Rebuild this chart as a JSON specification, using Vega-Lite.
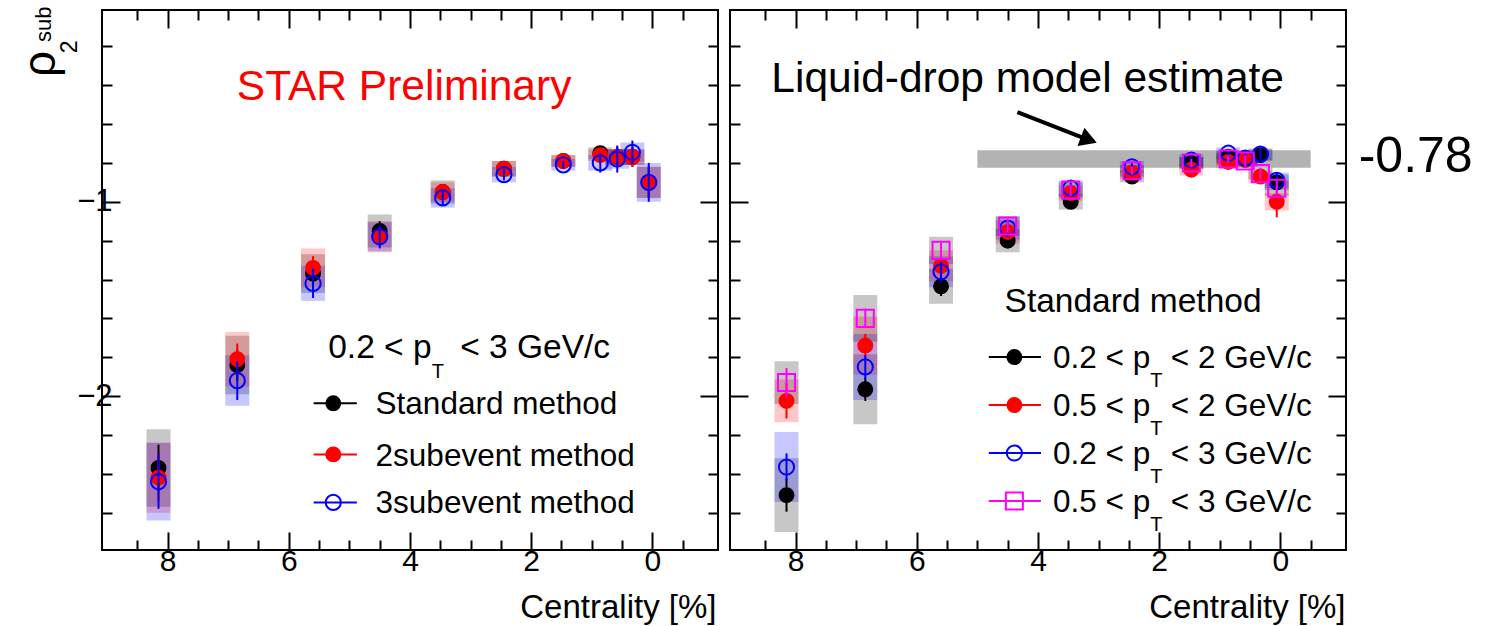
{
  "$schema": "https://vega.github.io/schema/vega-lite/v6.json",
  "padding": {"left": 16, "top": 5, "right": 5, "bottom": 0},
  "background": "white",
  "spacing": 8,
  "config": {
    "font": "Liberation Sans",
    "view": {"stroke": "black", "strokeWidth": 2},
    "axis": {"tickColor": "black", "tickWidth": 2, "labelColor": "black", "titleColor": "black", "domain": false, "grid": false, "labelFont": "Liberation Sans", "titleFont": "Liberation Sans", "titleFontWeight": "normal", "minExtent": 0, "labelFlush": false, "labelOverlap": false}
  },
  "datasets": {
    "L": [
      {"s":"std","c":8.15,"v":-2.37,"elo":-2.49,"ehi":-2.25,"slo":-2.57,"shi":-2.17},
      {"s":"std","c":6.85,"v":-1.84,"elo":-1.92,"ehi":-1.76,"slo":-1.99,"shi":-1.69},
      {"s":"std","c":5.6,"v":-1.37,"elo":-1.43,"ehi":-1.31,"slo":-1.47,"shi":-1.27},
      {"s":"std","c":4.5,"v":-1.15,"elo":-1.2,"ehi":-1.1,"slo":-1.235,"shi":-1.065},
      {"s":"std","c":3.46,"v":-0.95,"elo":-0.98,"ehi":-0.92,"slo":-1.01,"shi":-0.89},
      {"s":"std","c":2.45,"v":-0.83,"elo":-0.85,"ehi":-0.81,"slo":-0.87,"shi":-0.79},
      {"s":"std","c":1.47,"v":-0.79,"elo":-0.81,"ehi":-0.77,"slo":-0.82,"shi":-0.76},
      {"s":"std","c":0.86,"v":-0.75,"elo":-0.78,"ehi":-0.72,"slo":-0.78,"shi":-0.72},
      {"s":"std","c":0.58,"v":-0.77,"elo":-0.82,"ehi":-0.72,"slo":-0.81,"shi":-0.73},
      {"s":"std","c":0.33,"v":-0.77,"elo":-0.82,"ehi":-0.72,"slo":-0.81,"shi":-0.73},
      {"s":"std","c":0.06,"v":-0.9,"elo":-0.98,"ehi":-0.82,"slo":-0.98,"shi":-0.82},
      {"s":"sub2","c":8.15,"v":-2.42,"elo":-2.54,"ehi":-2.3,"slo":-2.6,"shi":-2.24},
      {"s":"sub2","c":6.85,"v":-1.81,"elo":-1.89,"ehi":-1.73,"slo":-1.95,"shi":-1.67},
      {"s":"sub2","c":5.6,"v":-1.34,"elo":-1.4,"ehi":-1.28,"slo":-1.44,"shi":-1.24},
      {"s":"sub2","c":4.5,"v":-1.18,"elo":-1.23,"ehi":-1.13,"slo":-1.26,"shi":-1.1},
      {"s":"sub2","c":3.46,"v":-0.95,"elo":-0.98,"ehi":-0.92,"slo":-1.0,"shi":-0.9},
      {"s":"sub2","c":2.45,"v":-0.83,"elo":-0.85,"ehi":-0.81,"slo":-0.87,"shi":-0.79},
      {"s":"sub2","c":1.47,"v":-0.79,"elo":-0.81,"ehi":-0.77,"slo":-0.82,"shi":-0.76},
      {"s":"sub2","c":0.86,"v":-0.76,"elo":-0.79,"ehi":-0.73,"slo":-0.79,"shi":-0.73},
      {"s":"sub2","c":0.58,"v":-0.77,"elo":-0.82,"ehi":-0.72,"slo":-0.81,"shi":-0.73},
      {"s":"sub2","c":0.33,"v":-0.77,"elo":-0.82,"ehi":-0.72,"slo":-0.81,"shi":-0.73},
      {"s":"sub2","c":0.06,"v":-0.9,"elo":-0.98,"ehi":-0.82,"slo":-0.98,"shi":-0.82},
      {"s":"sub3","c":8.15,"v":-2.44,"elo":-2.58,"ehi":-2.3,"slo":-2.64,"shi":-2.24},
      {"s":"sub3","c":6.85,"v":-1.92,"elo":-2.02,"ehi":-1.82,"slo":-2.05,"shi":-1.79},
      {"s":"sub3","c":5.6,"v":-1.42,"elo":-1.495,"ehi":-1.345,"slo":-1.51,"shi":-1.33},
      {"s":"sub3","c":4.5,"v":-1.18,"elo":-1.24,"ehi":-1.12,"slo":-1.255,"shi":-1.105},
      {"s":"sub3","c":3.46,"v":-0.98,"elo":-1.02,"ehi":-0.94,"slo":-1.03,"shi":-0.93},
      {"s":"sub3","c":2.45,"v":-0.86,"elo":-0.89,"ehi":-0.83,"slo":-0.9,"shi":-0.82},
      {"s":"sub3","c":1.47,"v":-0.81,"elo":-0.83,"ehi":-0.79,"slo":-0.84,"shi":-0.78},
      {"s":"sub3","c":0.86,"v":-0.8,"elo":-0.85,"ehi":-0.75,"slo":-0.84,"shi":-0.76},
      {"s":"sub3","c":0.58,"v":-0.78,"elo":-0.85,"ehi":-0.71,"slo":-0.83,"shi":-0.73},
      {"s":"sub3","c":0.33,"v":-0.745,"elo":-0.805,"ehi":-0.685,"slo":-0.795,"shi":-0.695},
      {"s":"sub3","c":0.06,"v":-0.9,"elo":-1.0,"ehi":-0.8,"slo":-1.0,"shi":-0.8}
    ],
    "R": [
      {"s":"a","c":8.15,"v":-2.51,"elo":-2.595,"ehi":-2.425,"slo":-2.7,"shi":-2.32},
      {"s":"a","c":6.85,"v":-1.965,"elo":-2.025,"ehi":-1.905,"slo":-2.145,"shi":-1.785},
      {"s":"a","c":5.6,"v":-1.435,"elo":-1.485,"ehi":-1.385,"slo":-1.525,"shi":-1.345},
      {"s":"a","c":4.5,"v":-1.2,"elo":-1.24,"ehi":-1.16,"slo":-1.26,"shi":-1.14},
      {"s":"a","c":3.46,"v":-1.0,"elo":-1.03,"ehi":-0.97,"slo":-1.04,"shi":-0.96},
      {"s":"a","c":2.45,"v":-0.87,"elo":-0.89,"ehi":-0.85,"slo":-0.9,"shi":-0.84},
      {"s":"a","c":1.47,"v":-0.8,"elo":-0.82,"ehi":-0.78,"slo":-0.83,"shi":-0.77},
      {"s":"a","c":0.86,"v":-0.77,"elo":-0.79,"ehi":-0.75,"slo":-0.8,"shi":-0.74},
      {"s":"a","c":0.58,"v":-0.78,"elo":-0.81,"ehi":-0.75,"slo":-0.81,"shi":-0.75},
      {"s":"a","c":0.33,"v":-0.76,"elo":-0.79,"ehi":-0.73,"slo":-0.79,"shi":-0.73},
      {"s":"a","c":0.06,"v":-0.9,"elo":-0.94,"ehi":-0.86,"slo":-0.94,"shi":-0.86},
      {"s":"b","c":8.15,"v":-2.025,"elo":-2.115,"ehi":-1.935,"slo":-2.135,"shi":-1.915},
      {"s":"b","c":6.85,"v":-1.74,"elo":-1.8,"ehi":-1.68,"slo":-1.89,"shi":-1.59},
      {"s":"b","c":5.6,"v":-1.33,"elo":-1.38,"ehi":-1.28,"slo":-1.41,"shi":-1.25},
      {"s":"b","c":4.5,"v":-1.155,"elo":-1.195,"ehi":-1.115,"slo":-1.215,"shi":-1.095},
      {"s":"b","c":3.46,"v":-0.955,"elo":-0.985,"ehi":-0.925,"slo":-0.995,"shi":-0.915},
      {"s":"b","c":2.45,"v":-0.85,"elo":-0.87,"ehi":-0.83,"slo":-0.88,"shi":-0.82},
      {"s":"b","c":1.47,"v":-0.835,"elo":-0.855,"ehi":-0.815,"slo":-0.865,"shi":-0.805},
      {"s":"b","c":0.86,"v":-0.795,"elo":-0.815,"ehi":-0.775,"slo":-0.825,"shi":-0.765},
      {"s":"b","c":0.58,"v":-0.785,"elo":-0.815,"ehi":-0.755,"slo":-0.815,"shi":-0.755},
      {"s":"b","c":0.33,"v":-0.87,"elo":-0.9,"ehi":-0.84,"slo":-0.9,"shi":-0.84},
      {"s":"b","c":0.06,"v":-1.0,"elo":-1.08,"ehi":-0.92,"slo":-1.045,"shi":-0.955},
      {"s":"c","c":8.15,"v":-2.365,"elo":-2.435,"ehi":-2.295,"slo":-2.545,"shi":-2.185},
      {"s":"c","c":6.85,"v":-1.85,"elo":-1.91,"ehi":-1.79,"slo":-2.02,"shi":-1.68},
      {"s":"c","c":5.6,"v":-1.36,"elo":-1.41,"ehi":-1.31,"slo":-1.44,"shi":-1.28},
      {"s":"c","c":4.5,"v":-1.135,"elo":-1.175,"ehi":-1.095,"slo":-1.195,"shi":-1.075},
      {"s":"c","c":3.46,"v":-0.93,"elo":-0.96,"ehi":-0.9,"slo":-0.97,"shi":-0.89},
      {"s":"c","c":2.45,"v":-0.82,"elo":-0.84,"ehi":-0.8,"slo":-0.85,"shi":-0.79},
      {"s":"c","c":1.47,"v":-0.785,"elo":-0.805,"ehi":-0.765,"slo":-0.815,"shi":-0.755},
      {"s":"c","c":0.86,"v":-0.75,"elo":-0.77,"ehi":-0.73,"slo":-0.78,"shi":-0.72},
      {"s":"c","c":0.58,"v":-0.775,"elo":-0.805,"ehi":-0.745,"slo":-0.805,"shi":-0.745},
      {"s":"c","c":0.33,"v":-0.755,"elo":-0.785,"ehi":-0.725,"slo":-0.785,"shi":-0.725},
      {"s":"c","c":0.06,"v":-0.89,"elo":-0.93,"ehi":-0.85,"slo":-0.93,"shi":-0.85},
      {"s":"d","c":8.15,"v":-1.93,"elo":-2.005,"ehi":-1.855,"slo":-2.04,"shi":-1.82},
      {"s":"d","c":6.85,"v":-1.6,"elo":-1.65,"ehi":-1.55,"slo":-1.72,"shi":-1.48},
      {"s":"d","c":5.6,"v":-1.25,"elo":-1.29,"ehi":-1.21,"slo":-1.32,"shi":-1.18},
      {"s":"d","c":4.5,"v":-1.125,"elo":-1.16,"ehi":-1.09,"slo":-1.175,"shi":-1.075},
      {"s":"d","c":3.46,"v":-0.94,"elo":-0.97,"ehi":-0.91,"slo":-0.98,"shi":-0.9},
      {"s":"d","c":2.45,"v":-0.84,"elo":-0.86,"ehi":-0.82,"slo":-0.87,"shi":-0.81},
      {"s":"d","c":1.47,"v":-0.8,"elo":-0.82,"ehi":-0.78,"slo":-0.83,"shi":-0.77},
      {"s":"d","c":0.86,"v":-0.78,"elo":-0.8,"ehi":-0.76,"slo":-0.81,"shi":-0.75},
      {"s":"d","c":0.58,"v":-0.79,"elo":-0.82,"ehi":-0.76,"slo":-0.82,"shi":-0.76},
      {"s":"d","c":0.33,"v":-0.855,"elo":-0.885,"ehi":-0.825,"slo":-0.885,"shi":-0.825},
      {"s":"d","c":0.06,"v":-0.93,"elo":-0.97,"ehi":-0.89,"slo":-0.97,"shi":-0.89}
    ],
    "one": [{}]
  },
  "hconcat": [
    {
      "width": 616, "height": 540,
      "resolve": {"axis": {"x": "independent", "y": "independent"}},
      "layer": [
        {"data": {"name": "L"}, "mark": {"type": "point", "opacity": 0},
         "encoding": {
           "x": {"field": "c", "type": "quantitative", "scale": {"domain": [-1, 9], "reverse": true, "nice": false, "zero": false},
                 "axis": {"orient": "bottom", "values": [8, 6, 4, 2, 0], "tickSize": -18, "labelPadding": 14, "labelFontSize": 30, "title": "Centrality [%]", "titleFontSize": 33, "titleAlign": "right", "titleAnchor": "end", "titleX": 614, "titleY": 67, "titleBaseline": "alphabetic"}},
           "y": {"field": "v", "type": "quantitative", "scale": {"domain": [-2.792, -0.013], "nice": false, "zero": false},
                 "axis": {"orient": "left", "values": [-1, -2], "tickSize": -18, "labelPadding": 8, "labelFontSize": 31, "labelExpr": "'−' + format(abs(datum.value), 'd')", "title": null}}}},
        {"data": {"name": "L"}, "mark": {"type": "point", "opacity": 0},
         "encoding": {
           "x": {"field": "c", "type": "quantitative", "scale": {"domain": [-1, 9], "reverse": true, "nice": false, "zero": false},
                 "axis": {"orient": "bottom", "values": [-0.5, 0.5, 1, 1.5, 2.5, 3, 3.5, 4.5, 5, 5.5, 6.5, 7, 7.5, 8.5], "tickSize": -10, "labels": false, "title": null}},
           "y": {"field": "v", "type": "quantitative", "scale": {"domain": [-2.792, -0.013], "nice": false, "zero": false},
                 "axis": {"orient": "left", "values": [-0.2, -0.4, -0.6, -0.8, -1.2, -1.4, -1.6, -1.8, -2.2, -2.4, -2.6], "tickSize": -10, "labels": false, "title": null}}}},
        {"data": {"name": "L"}, "mark": {"type": "point", "opacity": 0},
         "encoding": {
           "x": {"field": "c", "type": "quantitative", "scale": {"domain": [-1, 9], "reverse": true, "nice": false, "zero": false},
                 "axis": {"orient": "top", "values": [8, 6, 4, 2, 0], "tickSize": -18, "labels": false, "title": null}},
           "y": {"field": "v", "type": "quantitative", "scale": {"domain": [-2.792, -0.013], "nice": false, "zero": false},
                 "axis": {"orient": "right", "values": [-1, -2], "tickSize": -18, "labels": false, "title": null}}}},
        {"data": {"name": "L"}, "mark": {"type": "point", "opacity": 0},
         "encoding": {
           "x": {"field": "c", "type": "quantitative", "scale": {"domain": [-1, 9], "reverse": true, "nice": false, "zero": false},
                 "axis": {"orient": "top", "values": [-0.5, 0.5, 1, 1.5, 2.5, 3, 3.5, 4.5, 5, 5.5, 6.5, 7, 7.5, 8.5], "tickSize": -10, "labels": false, "title": null}},
           "y": {"field": "v", "type": "quantitative", "scale": {"domain": [-2.792, -0.013], "nice": false, "zero": false},
                 "axis": {"orient": "right", "values": [-0.2, -0.4, -0.6, -0.8, -1.2, -1.4, -1.6, -1.8, -2.2, -2.4, -2.6], "tickSize": -10, "labels": false, "title": null}}}},
        {"data": {"name": "L"}, "mark": {"type": "bar", "width": 24, "opacity": 0.22},
         "encoding": {
           "x": {"field": "c", "type": "quantitative", "scale": {"domain": [-1, 9], "reverse": true, "nice": false, "zero": false}, "axis": null},
           "y": {"field": "slo", "type": "quantitative", "scale": {"domain": [-2.792, -0.013], "nice": false, "zero": false}, "axis": null},
           "y2": {"field": "shi"},
           "color": {"field": "s", "type": "nominal", "scale": {"domain": ["std", "sub2", "sub3"], "range": ["#000000", "#ff0000", "#0000ff"]}, "legend": null}}},
        {"data": {"name": "L"}, "transform": [{"filter": {"field": "s", "equal": "std"}}], "mark": {"type": "rule", "color": "#000000", "strokeWidth": 2},
         "encoding": {
           "x": {"field": "c", "type": "quantitative", "scale": {"domain": [-1, 9], "reverse": true, "nice": false, "zero": false}, "axis": null},
           "y": {"field": "elo", "type": "quantitative", "scale": {"domain": [-2.792, -0.013], "nice": false, "zero": false}, "axis": null},
           "y2": {"field": "ehi"}}},
        {"data": {"name": "L"}, "transform": [{"filter": {"field": "s", "equal": "std"}}], "mark": {"type": "point", "shape": "circle", "filled": true, "size": 254, "color": "#000000", "opacity": 1},
         "encoding": {
           "x": {"field": "c", "type": "quantitative", "scale": {"domain": [-1, 9], "reverse": true, "nice": false, "zero": false}, "axis": null},
           "y": {"field": "v", "type": "quantitative", "scale": {"domain": [-2.792, -0.013], "nice": false, "zero": false}, "axis": null}}},
        {"data": {"name": "L"}, "transform": [{"filter": {"field": "s", "equal": "sub2"}}], "mark": {"type": "rule", "color": "#ff0000", "strokeWidth": 2},
         "encoding": {
           "x": {"field": "c", "type": "quantitative", "scale": {"domain": [-1, 9], "reverse": true, "nice": false, "zero": false}, "axis": null},
           "y": {"field": "elo", "type": "quantitative", "scale": {"domain": [-2.792, -0.013], "nice": false, "zero": false}, "axis": null},
           "y2": {"field": "ehi"}}},
        {"data": {"name": "L"}, "transform": [{"filter": {"field": "s", "equal": "sub2"}}], "mark": {"type": "point", "shape": "circle", "filled": true, "size": 254, "color": "#ff0000", "opacity": 1},
         "encoding": {
           "x": {"field": "c", "type": "quantitative", "scale": {"domain": [-1, 9], "reverse": true, "nice": false, "zero": false}, "axis": null},
           "y": {"field": "v", "type": "quantitative", "scale": {"domain": [-2.792, -0.013], "nice": false, "zero": false}, "axis": null}}},
        {"data": {"name": "L"}, "transform": [{"filter": {"field": "s", "equal": "sub3"}}], "mark": {"type": "rule", "color": "#0000ff", "strokeWidth": 2},
         "encoding": {
           "x": {"field": "c", "type": "quantitative", "scale": {"domain": [-1, 9], "reverse": true, "nice": false, "zero": false}, "axis": null},
           "y": {"field": "elo", "type": "quantitative", "scale": {"domain": [-2.792, -0.013], "nice": false, "zero": false}, "axis": null},
           "y2": {"field": "ehi"}}},
        {"data": {"name": "L"}, "transform": [{"filter": {"field": "s", "equal": "sub3"}}], "mark": {"type": "point", "shape": "circle", "filled": false, "size": 230, "color": "#0000ff", "strokeWidth": 2, "opacity": 1},
         "encoding": {
           "x": {"field": "c", "type": "quantitative", "scale": {"domain": [-1, 9], "reverse": true, "nice": false, "zero": false}, "axis": null},
           "y": {"field": "v", "type": "quantitative", "scale": {"domain": [-2.792, -0.013], "nice": false, "zero": false}, "axis": null}}},
        {"data": {"name": "one"}, "mark": {"type": "text", "text": "ρ", "fontSize": 46, "angle": 270, "align": "left", "baseline": "alphabetic", "color": "black"},
         "encoding": {"x": {"datum": 9.86, "scale": {"domain": [-1, 9], "reverse": true, "nice": false, "zero": false}, "axis": null}, "y": {"datum": -0.358, "scale": {"domain": [-2.792, -0.013], "nice": false, "zero": false}, "axis": null}}},
        {"data": {"name": "one"}, "mark": {"type": "text", "text": "2", "fontSize": 23, "angle": 270, "align": "left", "baseline": "alphabetic", "color": "black"},
         "encoding": {"x": {"datum": 9.487, "scale": {"domain": [-1, 9], "reverse": true, "nice": false, "zero": false}, "axis": null}, "y": {"datum": -0.235, "scale": {"domain": [-2.792, -0.013], "nice": false, "zero": false}, "axis": null}}},
        {"data": {"name": "one"}, "mark": {"type": "text", "text": "sub", "fontSize": 22, "angle": 270, "align": "left", "baseline": "alphabetic", "color": "black"},
         "encoding": {"x": {"datum": 9.93, "scale": {"domain": [-1, 9], "reverse": true, "nice": false, "zero": false}, "axis": null}, "y": {"datum": -0.178, "scale": {"domain": [-2.792, -0.013], "nice": false, "zero": false}, "axis": null}}},
        {"data": {"name": "one"}, "mark": {"type": "text", "text": "STAR Preliminary", "fontSize": 42.5, "align": "left", "baseline": "alphabetic", "color": "#ff0000"},
         "encoding": {"x": {"datum": 6.857, "scale": {"domain": [-1, 9], "reverse": true, "nice": false, "zero": false}, "axis": null}, "y": {"datum": -0.477, "scale": {"domain": [-2.792, -0.013], "nice": false, "zero": false}, "axis": null}}},
        {"data": {"name": "one"}, "mark": {"type": "text", "text": "0.2 < p", "fontSize": 33.5, "align": "right", "baseline": "alphabetic", "color": "black"},
         "encoding": {"x": {"datum": 3.643, "scale": {"domain": [-1, 9], "reverse": true, "nice": false, "zero": false}, "axis": null}, "y": {"datum": -1.804, "scale": {"domain": [-2.792, -0.013], "nice": false, "zero": false}, "axis": null}}},
        {"data": {"name": "one"}, "mark": {"type": "text", "text": "T", "fontSize": 20, "align": "left", "baseline": "alphabetic", "color": "black"},
         "encoding": {"x": {"datum": 3.643, "scale": {"domain": [-1, 9], "reverse": true, "nice": false, "zero": false}, "axis": null}, "y": {"datum": -1.907, "scale": {"domain": [-2.792, -0.013], "nice": false, "zero": false}, "axis": null}}},
        {"data": {"name": "one"}, "mark": {"type": "text", "text": "< 3 GeV/c", "fontSize": 33.5, "align": "left", "baseline": "alphabetic", "color": "black"},
         "encoding": {"x": {"datum": 3.172, "scale": {"domain": [-1, 9], "reverse": true, "nice": false, "zero": false}, "axis": null}, "y": {"datum": -1.804, "scale": {"domain": [-2.792, -0.013], "nice": false, "zero": false}, "axis": null}}},
        {"data": {"name": "one"}, "mark": {"type": "rule", "color": "#000000", "strokeWidth": 2},
         "encoding": {"x": {"datum": 5.59, "scale": {"domain": [-1, 9], "reverse": true, "nice": false, "zero": false}, "axis": null}, "x2": {"datum": 4.877}, "y": {"datum": -2.037, "scale": {"domain": [-2.792, -0.013], "nice": false, "zero": false}, "axis": null}}},
        {"data": {"name": "one"}, "mark": {"type": "point", "shape": "circle", "filled": true, "size": 254, "color": "#000000", "opacity": 1},
         "encoding": {"x": {"datum": 5.266, "scale": {"domain": [-1, 9], "reverse": true, "nice": false, "zero": false}, "axis": null}, "y": {"datum": -2.037, "scale": {"domain": [-2.792, -0.013], "nice": false, "zero": false}, "axis": null}}},
        {"data": {"name": "one"}, "mark": {"type": "text", "text": "Standard method", "fontSize": 31.5, "align": "left", "baseline": "alphabetic", "color": "black"},
         "encoding": {"x": {"datum": 4.568, "scale": {"domain": [-1, 9], "reverse": true, "nice": false, "zero": false}, "axis": null}, "y": {"datum": -2.093, "scale": {"domain": [-2.792, -0.013], "nice": false, "zero": false}, "axis": null}}},
        {"data": {"name": "one"}, "mark": {"type": "rule", "color": "#ff0000", "strokeWidth": 2},
         "encoding": {"x": {"datum": 5.59, "scale": {"domain": [-1, 9], "reverse": true, "nice": false, "zero": false}, "axis": null}, "x2": {"datum": 4.877}, "y": {"datum": -2.3, "scale": {"domain": [-2.792, -0.013], "nice": false, "zero": false}, "axis": null}}},
        {"data": {"name": "one"}, "mark": {"type": "point", "shape": "circle", "filled": true, "size": 254, "color": "#ff0000", "opacity": 1},
         "encoding": {"x": {"datum": 5.266, "scale": {"domain": [-1, 9], "reverse": true, "nice": false, "zero": false}, "axis": null}, "y": {"datum": -2.3, "scale": {"domain": [-2.792, -0.013], "nice": false, "zero": false}, "axis": null}}},
        {"data": {"name": "one"}, "mark": {"type": "text", "text": "2subevent method", "fontSize": 31.5, "align": "left", "baseline": "alphabetic", "color": "black"},
         "encoding": {"x": {"datum": 4.568, "scale": {"domain": [-1, 9], "reverse": true, "nice": false, "zero": false}, "axis": null}, "y": {"datum": -2.361, "scale": {"domain": [-2.792, -0.013], "nice": false, "zero": false}, "axis": null}}},
        {"data": {"name": "one"}, "mark": {"type": "point", "shape": "circle", "filled": true, "size": 230, "color": "#ffffff", "opacity": 1},
         "encoding": {"x": {"datum": 5.266, "scale": {"domain": [-1, 9], "reverse": true, "nice": false, "zero": false}, "axis": null}, "y": {"datum": -2.547, "scale": {"domain": [-2.792, -0.013], "nice": false, "zero": false}, "axis": null}}},
        {"data": {"name": "one"}, "mark": {"type": "rule", "color": "#0000ff", "strokeWidth": 2},
         "encoding": {"x": {"datum": 5.59, "scale": {"domain": [-1, 9], "reverse": true, "nice": false, "zero": false}, "axis": null}, "x2": {"datum": 4.877}, "y": {"datum": -2.547, "scale": {"domain": [-2.792, -0.013], "nice": false, "zero": false}, "axis": null}}},
        {"data": {"name": "one"}, "mark": {"type": "point", "shape": "circle", "filled": false, "size": 230, "color": "#0000ff", "strokeWidth": 2, "opacity": 1},
         "encoding": {"x": {"datum": 5.266, "scale": {"domain": [-1, 9], "reverse": true, "nice": false, "zero": false}, "axis": null}, "y": {"datum": -2.547, "scale": {"domain": [-2.792, -0.013], "nice": false, "zero": false}, "axis": null}}},
        {"data": {"name": "one"}, "mark": {"type": "text", "text": "3subevent method", "fontSize": 31.5, "align": "left", "baseline": "alphabetic", "color": "black"},
         "encoding": {"x": {"datum": 4.568, "scale": {"domain": [-1, 9], "reverse": true, "nice": false, "zero": false}, "axis": null}, "y": {"datum": -2.603, "scale": {"domain": [-2.792, -0.013], "nice": false, "zero": false}, "axis": null}}}
      ]
    },
    {
      "width": 616, "height": 540,
      "resolve": {"axis": {"x": "independent", "y": "independent"}},
      "layer": [
        {"data": {"name": "R"}, "mark": {"type": "point", "opacity": 0},
         "encoding": {
           "x": {"field": "c", "type": "quantitative", "scale": {"domain": [-1, 9], "reverse": true, "nice": false, "zero": false},
                 "axis": {"orient": "bottom", "values": [8, 6, 4, 2, 0], "tickSize": -18, "labelPadding": 14, "labelFontSize": 30, "title": "Centrality [%]", "titleFontSize": 33, "titleAlign": "right", "titleAnchor": "end", "titleX": 615, "titleY": 67, "titleBaseline": "alphabetic"}},
           "y": {"field": "v", "type": "quantitative", "scale": {"domain": [-2.792, -0.013], "nice": false, "zero": false},
                 "axis": {"orient": "left", "values": [-1, -2], "tickSize": -18, "labels": false, "title": null}}}},
        {"data": {"name": "R"}, "mark": {"type": "point", "opacity": 0},
         "encoding": {
           "x": {"field": "c", "type": "quantitative", "scale": {"domain": [-1, 9], "reverse": true, "nice": false, "zero": false},
                 "axis": {"orient": "bottom", "values": [-0.5, 0.5, 1, 1.5, 2.5, 3, 3.5, 4.5, 5, 5.5, 6.5, 7, 7.5, 8.5], "tickSize": -10, "labels": false, "title": null}},
           "y": {"field": "v", "type": "quantitative", "scale": {"domain": [-2.792, -0.013], "nice": false, "zero": false},
                 "axis": {"orient": "left", "values": [-0.2, -0.4, -0.6, -0.8, -1.2, -1.4, -1.6, -1.8, -2.2, -2.4, -2.6], "tickSize": -10, "labels": false, "title": null}}}},
        {"data": {"name": "R"}, "mark": {"type": "point", "opacity": 0},
         "encoding": {
           "x": {"field": "c", "type": "quantitative", "scale": {"domain": [-1, 9], "reverse": true, "nice": false, "zero": false},
                 "axis": {"orient": "top", "values": [8, 6, 4, 2, 0], "tickSize": -18, "labels": false, "title": null}},
           "y": {"field": "v", "type": "quantitative", "scale": {"domain": [-2.792, -0.013], "nice": false, "zero": false},
                 "axis": {"orient": "right", "values": [-1, -2], "tickSize": -18, "labels": false, "title": null}}}},
        {"data": {"name": "R"}, "mark": {"type": "point", "opacity": 0},
         "encoding": {
           "x": {"field": "c", "type": "quantitative", "scale": {"domain": [-1, 9], "reverse": true, "nice": false, "zero": false},
                 "axis": {"orient": "top", "values": [-0.5, 0.5, 1, 1.5, 2.5, 3, 3.5, 4.5, 5, 5.5, 6.5, 7, 7.5, 8.5], "tickSize": -10, "labels": false, "title": null}},
           "y": {"field": "v", "type": "quantitative", "scale": {"domain": [-2.792, -0.013], "nice": false, "zero": false},
                 "axis": {"orient": "right", "values": [-0.2, -0.4, -0.6, -0.8, -1.2, -1.4, -1.6, -1.8, -2.2, -2.4, -2.6], "tickSize": -10, "labels": false, "title": null}}}},
        {"data": {"name": "one"}, "mark": {"type": "rect", "color": "#b3b3b3", "opacity": 1},
         "encoding": {"x": {"datum": 5.0, "scale": {"domain": [-1, 9], "reverse": true, "nice": false, "zero": false}, "axis": null}, "x2": {"datum": -0.5},
                      "y": {"datum": -0.735, "scale": {"domain": [-2.792, -0.013], "nice": false, "zero": false}, "axis": null}, "y2": {"datum": -0.825}}},
        {"data": {"name": "R"}, "mark": {"type": "bar", "width": 24, "opacity": 0.22},
         "encoding": {
           "x": {"field": "c", "type": "quantitative", "scale": {"domain": [-1, 9], "reverse": true, "nice": false, "zero": false}, "axis": null},
           "y": {"field": "slo", "type": "quantitative", "scale": {"domain": [-2.792, -0.013], "nice": false, "zero": false}, "axis": null},
           "y2": {"field": "shi"},
           "color": {"field": "s", "type": "nominal", "scale": {"domain": ["a", "b", "c", "d"], "range": ["#000000", "#ff0000", "#0000ff", "#ff00ff"]}, "legend": null}}},
        {"data": {"name": "R"}, "transform": [{"filter": {"field": "s", "equal": "a"}}], "mark": {"type": "rule", "color": "#000000", "strokeWidth": 2},
         "encoding": {
           "x": {"field": "c", "type": "quantitative", "scale": {"domain": [-1, 9], "reverse": true, "nice": false, "zero": false}, "axis": null},
           "y": {"field": "elo", "type": "quantitative", "scale": {"domain": [-2.792, -0.013], "nice": false, "zero": false}, "axis": null},
           "y2": {"field": "ehi"}}},
        {"data": {"name": "R"}, "transform": [{"filter": {"field": "s", "equal": "a"}}], "mark": {"type": "point", "shape": "circle", "filled": true, "size": 254, "color": "#000000", "opacity": 1},
         "encoding": {
           "x": {"field": "c", "type": "quantitative", "scale": {"domain": [-1, 9], "reverse": true, "nice": false, "zero": false}, "axis": null},
           "y": {"field": "v", "type": "quantitative", "scale": {"domain": [-2.792, -0.013], "nice": false, "zero": false}, "axis": null}}},
        {"data": {"name": "R"}, "transform": [{"filter": {"field": "s", "equal": "b"}}], "mark": {"type": "rule", "color": "#ff0000", "strokeWidth": 2},
         "encoding": {
           "x": {"field": "c", "type": "quantitative", "scale": {"domain": [-1, 9], "reverse": true, "nice": false, "zero": false}, "axis": null},
           "y": {"field": "elo", "type": "quantitative", "scale": {"domain": [-2.792, -0.013], "nice": false, "zero": false}, "axis": null},
           "y2": {"field": "ehi"}}},
        {"data": {"name": "R"}, "transform": [{"filter": {"field": "s", "equal": "b"}}], "mark": {"type": "point", "shape": "circle", "filled": true, "size": 254, "color": "#ff0000", "opacity": 1},
         "encoding": {
           "x": {"field": "c", "type": "quantitative", "scale": {"domain": [-1, 9], "reverse": true, "nice": false, "zero": false}, "axis": null},
           "y": {"field": "v", "type": "quantitative", "scale": {"domain": [-2.792, -0.013], "nice": false, "zero": false}, "axis": null}}},
        {"data": {"name": "R"}, "transform": [{"filter": {"field": "s", "equal": "c"}}], "mark": {"type": "rule", "color": "#0000ff", "strokeWidth": 2},
         "encoding": {
           "x": {"field": "c", "type": "quantitative", "scale": {"domain": [-1, 9], "reverse": true, "nice": false, "zero": false}, "axis": null},
           "y": {"field": "elo", "type": "quantitative", "scale": {"domain": [-2.792, -0.013], "nice": false, "zero": false}, "axis": null},
           "y2": {"field": "ehi"}}},
        {"data": {"name": "R"}, "transform": [{"filter": {"field": "s", "equal": "c"}}], "mark": {"type": "point", "shape": "circle", "filled": false, "size": 230, "color": "#0000ff", "strokeWidth": 2, "opacity": 1},
         "encoding": {
           "x": {"field": "c", "type": "quantitative", "scale": {"domain": [-1, 9], "reverse": true, "nice": false, "zero": false}, "axis": null},
           "y": {"field": "v", "type": "quantitative", "scale": {"domain": [-2.792, -0.013], "nice": false, "zero": false}, "axis": null}}},
        {"data": {"name": "R"}, "transform": [{"filter": {"field": "s", "equal": "d"}}], "mark": {"type": "rule", "color": "#ff00ff", "strokeWidth": 2},
         "encoding": {
           "x": {"field": "c", "type": "quantitative", "scale": {"domain": [-1, 9], "reverse": true, "nice": false, "zero": false}, "axis": null},
           "y": {"field": "elo", "type": "quantitative", "scale": {"domain": [-2.792, -0.013], "nice": false, "zero": false}, "axis": null},
           "y2": {"field": "ehi"}}},
        {"data": {"name": "R"}, "transform": [{"filter": {"field": "s", "equal": "d"}}], "mark": {"type": "point", "shape": "square", "filled": false, "size": 290, "color": "#ff00ff", "strokeWidth": 2, "opacity": 1},
         "encoding": {
           "x": {"field": "c", "type": "quantitative", "scale": {"domain": [-1, 9], "reverse": true, "nice": false, "zero": false}, "axis": null},
           "y": {"field": "v", "type": "quantitative", "scale": {"domain": [-2.792, -0.013], "nice": false, "zero": false}, "axis": null}}},
        {"data": {"name": "one"}, "mark": {"type": "rule", "color": "#000000", "strokeWidth": 4},
         "encoding": {"x": {"datum": 4.34, "scale": {"domain": [-1, 9], "reverse": true, "nice": false, "zero": false}, "axis": null}, "x2": {"datum": 3.2},
                      "y": {"datum": -0.538, "scale": {"domain": [-2.792, -0.013], "nice": false, "zero": false}, "axis": null}, "y2": {"datum": -0.677}}},
        {"data": {"name": "one"}, "mark": {"type": "point", "shape": "triangle-right", "angle": 21, "filled": true, "size": 380, "color": "#000000", "opacity": 1},
         "encoding": {"x": {"datum": 3.161, "scale": {"domain": [-1, 9], "reverse": true, "nice": false, "zero": false}, "axis": null}, "y": {"datum": -0.681, "scale": {"domain": [-2.792, -0.013], "nice": false, "zero": false}, "axis": null}}},
        {"data": {"name": "one"}, "mark": {"type": "text", "text": "Liquid-drop model estimate", "fontSize": 42.5, "align": "left", "baseline": "alphabetic", "color": "black"},
         "encoding": {"x": {"datum": 8.4, "scale": {"domain": [-1, 9], "reverse": true, "nice": false, "zero": false}, "axis": null}, "y": {"datum": -0.435, "scale": {"domain": [-2.792, -0.013], "nice": false, "zero": false}, "axis": null}}},
        {"data": {"name": "one"}, "mark": {"type": "text", "text": "-0.78", "fontSize": 50, "align": "left", "baseline": "alphabetic", "color": "black"},
         "encoding": {"x": {"datum": -1.292, "scale": {"domain": [-1, 9], "reverse": true, "nice": false, "zero": false}, "axis": null}, "y": {"datum": -0.847, "scale": {"domain": [-2.792, -0.013], "nice": false, "zero": false}, "axis": null}}},
        {"data": {"name": "one"}, "mark": {"type": "text", "text": "Standard method", "fontSize": 33.5, "align": "left", "baseline": "alphabetic", "color": "black"},
         "encoding": {"x": {"datum": 4.552, "scale": {"domain": [-1, 9], "reverse": true, "nice": false, "zero": false}, "axis": null}, "y": {"datum": -1.568, "scale": {"domain": [-2.792, -0.013], "nice": false, "zero": false}, "axis": null}}},
        {"data": {"name": "one"}, "mark": {"type": "rule", "color": "#000000", "strokeWidth": 2},
         "encoding": {"x": {"datum": 4.812, "scale": {"domain": [-1, 9], "reverse": true, "nice": false, "zero": false}, "axis": null}, "x2": {"datum": 3.951}, "y": {"datum": -1.799, "scale": {"domain": [-2.792, -0.013], "nice": false, "zero": false}, "axis": null}}},
        {"data": {"name": "one"}, "mark": {"type": "point", "shape": "circle", "filled": true, "size": 254, "color": "#000000", "opacity": 1},
         "encoding": {"x": {"datum": 4.39, "scale": {"domain": [-1, 9], "reverse": true, "nice": false, "zero": false}, "axis": null}, "y": {"datum": -1.799, "scale": {"domain": [-2.792, -0.013], "nice": false, "zero": false}, "axis": null}}},
        {"data": {"name": "one"}, "mark": {"type": "text", "text": "0.2 < p", "fontSize": 31.5, "align": "right", "baseline": "alphabetic", "color": "black"},
         "encoding": {"x": {"datum": 2.149, "scale": {"domain": [-1, 9], "reverse": true, "nice": false, "zero": false}, "axis": null}, "y": {"datum": -1.856, "scale": {"domain": [-2.792, -0.013], "nice": false, "zero": false}, "axis": null}}},
        {"data": {"name": "one"}, "mark": {"type": "text", "text": "T", "fontSize": 20, "align": "left", "baseline": "alphabetic", "color": "black"},
         "encoding": {"x": {"datum": 2.149, "scale": {"domain": [-1, 9], "reverse": true, "nice": false, "zero": false}, "axis": null}, "y": {"datum": -1.954, "scale": {"domain": [-2.792, -0.013], "nice": false, "zero": false}, "axis": null}}},
        {"data": {"name": "one"}, "mark": {"type": "text", "text": "< 2 GeV/c", "fontSize": 31.5, "align": "left", "baseline": "alphabetic", "color": "black"},
         "encoding": {"x": {"datum": 1.808, "scale": {"domain": [-1, 9], "reverse": true, "nice": false, "zero": false}, "axis": null}, "y": {"datum": -1.856, "scale": {"domain": [-2.792, -0.013], "nice": false, "zero": false}, "axis": null}}},
        {"data": {"name": "one"}, "mark": {"type": "rule", "color": "#ff0000", "strokeWidth": 2},
         "encoding": {"x": {"datum": 4.812, "scale": {"domain": [-1, 9], "reverse": true, "nice": false, "zero": false}, "axis": null}, "x2": {"datum": 3.951}, "y": {"datum": -2.046, "scale": {"domain": [-2.792, -0.013], "nice": false, "zero": false}, "axis": null}}},
        {"data": {"name": "one"}, "mark": {"type": "point", "shape": "circle", "filled": true, "size": 254, "color": "#ff0000", "opacity": 1},
         "encoding": {"x": {"datum": 4.39, "scale": {"domain": [-1, 9], "reverse": true, "nice": false, "zero": false}, "axis": null}, "y": {"datum": -2.046, "scale": {"domain": [-2.792, -0.013], "nice": false, "zero": false}, "axis": null}}},
        {"data": {"name": "one"}, "mark": {"type": "text", "text": "0.5 < p", "fontSize": 31.5, "align": "right", "baseline": "alphabetic", "color": "black"},
         "encoding": {"x": {"datum": 2.149, "scale": {"domain": [-1, 9], "reverse": true, "nice": false, "zero": false}, "axis": null}, "y": {"datum": -2.103, "scale": {"domain": [-2.792, -0.013], "nice": false, "zero": false}, "axis": null}}},
        {"data": {"name": "one"}, "mark": {"type": "text", "text": "T", "fontSize": 20, "align": "left", "baseline": "alphabetic", "color": "black"},
         "encoding": {"x": {"datum": 2.149, "scale": {"domain": [-1, 9], "reverse": true, "nice": false, "zero": false}, "axis": null}, "y": {"datum": -2.201, "scale": {"domain": [-2.792, -0.013], "nice": false, "zero": false}, "axis": null}}},
        {"data": {"name": "one"}, "mark": {"type": "text", "text": "< 2 GeV/c", "fontSize": 31.5, "align": "left", "baseline": "alphabetic", "color": "black"},
         "encoding": {"x": {"datum": 1.808, "scale": {"domain": [-1, 9], "reverse": true, "nice": false, "zero": false}, "axis": null}, "y": {"datum": -2.103, "scale": {"domain": [-2.792, -0.013], "nice": false, "zero": false}, "axis": null}}},
        {"data": {"name": "one"}, "mark": {"type": "point", "shape": "circle", "filled": true, "size": 230, "color": "#ffffff", "opacity": 1},
         "encoding": {"x": {"datum": 4.39, "scale": {"domain": [-1, 9], "reverse": true, "nice": false, "zero": false}, "axis": null}, "y": {"datum": -2.293, "scale": {"domain": [-2.792, -0.013], "nice": false, "zero": false}, "axis": null}}},
        {"data": {"name": "one"}, "mark": {"type": "rule", "color": "#0000ff", "strokeWidth": 2},
         "encoding": {"x": {"datum": 4.812, "scale": {"domain": [-1, 9], "reverse": true, "nice": false, "zero": false}, "axis": null}, "x2": {"datum": 3.951}, "y": {"datum": -2.293, "scale": {"domain": [-2.792, -0.013], "nice": false, "zero": false}, "axis": null}}},
        {"data": {"name": "one"}, "mark": {"type": "point", "shape": "circle", "filled": false, "size": 230, "color": "#0000ff", "strokeWidth": 2, "opacity": 1},
         "encoding": {"x": {"datum": 4.39, "scale": {"domain": [-1, 9], "reverse": true, "nice": false, "zero": false}, "axis": null}, "y": {"datum": -2.293, "scale": {"domain": [-2.792, -0.013], "nice": false, "zero": false}, "axis": null}}},
        {"data": {"name": "one"}, "mark": {"type": "text", "text": "0.2 < p", "fontSize": 31.5, "align": "right", "baseline": "alphabetic", "color": "black"},
         "encoding": {"x": {"datum": 2.149, "scale": {"domain": [-1, 9], "reverse": true, "nice": false, "zero": false}, "axis": null}, "y": {"datum": -2.35, "scale": {"domain": [-2.792, -0.013], "nice": false, "zero": false}, "axis": null}}},
        {"data": {"name": "one"}, "mark": {"type": "text", "text": "T", "fontSize": 20, "align": "left", "baseline": "alphabetic", "color": "black"},
         "encoding": {"x": {"datum": 2.149, "scale": {"domain": [-1, 9], "reverse": true, "nice": false, "zero": false}, "axis": null}, "y": {"datum": -2.448, "scale": {"domain": [-2.792, -0.013], "nice": false, "zero": false}, "axis": null}}},
        {"data": {"name": "one"}, "mark": {"type": "text", "text": "< 3 GeV/c", "fontSize": 31.5, "align": "left", "baseline": "alphabetic", "color": "black"},
         "encoding": {"x": {"datum": 1.808, "scale": {"domain": [-1, 9], "reverse": true, "nice": false, "zero": false}, "axis": null}, "y": {"datum": -2.35, "scale": {"domain": [-2.792, -0.013], "nice": false, "zero": false}, "axis": null}}},
        {"data": {"name": "one"}, "mark": {"type": "point", "shape": "square", "filled": true, "size": 290, "color": "#ffffff", "opacity": 1},
         "encoding": {"x": {"datum": 4.39, "scale": {"domain": [-1, 9], "reverse": true, "nice": false, "zero": false}, "axis": null}, "y": {"datum": -2.54, "scale": {"domain": [-2.792, -0.013], "nice": false, "zero": false}, "axis": null}}},
        {"data": {"name": "one"}, "mark": {"type": "rule", "color": "#ff00ff", "strokeWidth": 2},
         "encoding": {"x": {"datum": 4.812, "scale": {"domain": [-1, 9], "reverse": true, "nice": false, "zero": false}, "axis": null}, "x2": {"datum": 3.951}, "y": {"datum": -2.54, "scale": {"domain": [-2.792, -0.013], "nice": false, "zero": false}, "axis": null}}},
        {"data": {"name": "one"}, "mark": {"type": "point", "shape": "square", "filled": false, "size": 290, "color": "#ff00ff", "strokeWidth": 2, "opacity": 1},
         "encoding": {"x": {"datum": 4.39, "scale": {"domain": [-1, 9], "reverse": true, "nice": false, "zero": false}, "axis": null}, "y": {"datum": -2.54, "scale": {"domain": [-2.792, -0.013], "nice": false, "zero": false}, "axis": null}}},
        {"data": {"name": "one"}, "mark": {"type": "text", "text": "0.5 < p", "fontSize": 31.5, "align": "right", "baseline": "alphabetic", "color": "black"},
         "encoding": {"x": {"datum": 2.149, "scale": {"domain": [-1, 9], "reverse": true, "nice": false, "zero": false}, "axis": null}, "y": {"datum": -2.597, "scale": {"domain": [-2.792, -0.013], "nice": false, "zero": false}, "axis": null}}},
        {"data": {"name": "one"}, "mark": {"type": "text", "text": "T", "fontSize": 20, "align": "left", "baseline": "alphabetic", "color": "black"},
         "encoding": {"x": {"datum": 2.149, "scale": {"domain": [-1, 9], "reverse": true, "nice": false, "zero": false}, "axis": null}, "y": {"datum": -2.695, "scale": {"domain": [-2.792, -0.013], "nice": false, "zero": false}, "axis": null}}},
        {"data": {"name": "one"}, "mark": {"type": "text", "text": "< 3 GeV/c", "fontSize": 31.5, "align": "left", "baseline": "alphabetic", "color": "black"},
         "encoding": {"x": {"datum": 1.808, "scale": {"domain": [-1, 9], "reverse": true, "nice": false, "zero": false}, "axis": null}, "y": {"datum": -2.597, "scale": {"domain": [-2.792, -0.013], "nice": false, "zero": false}, "axis": null}}}
      ]
    }
  ]
}
